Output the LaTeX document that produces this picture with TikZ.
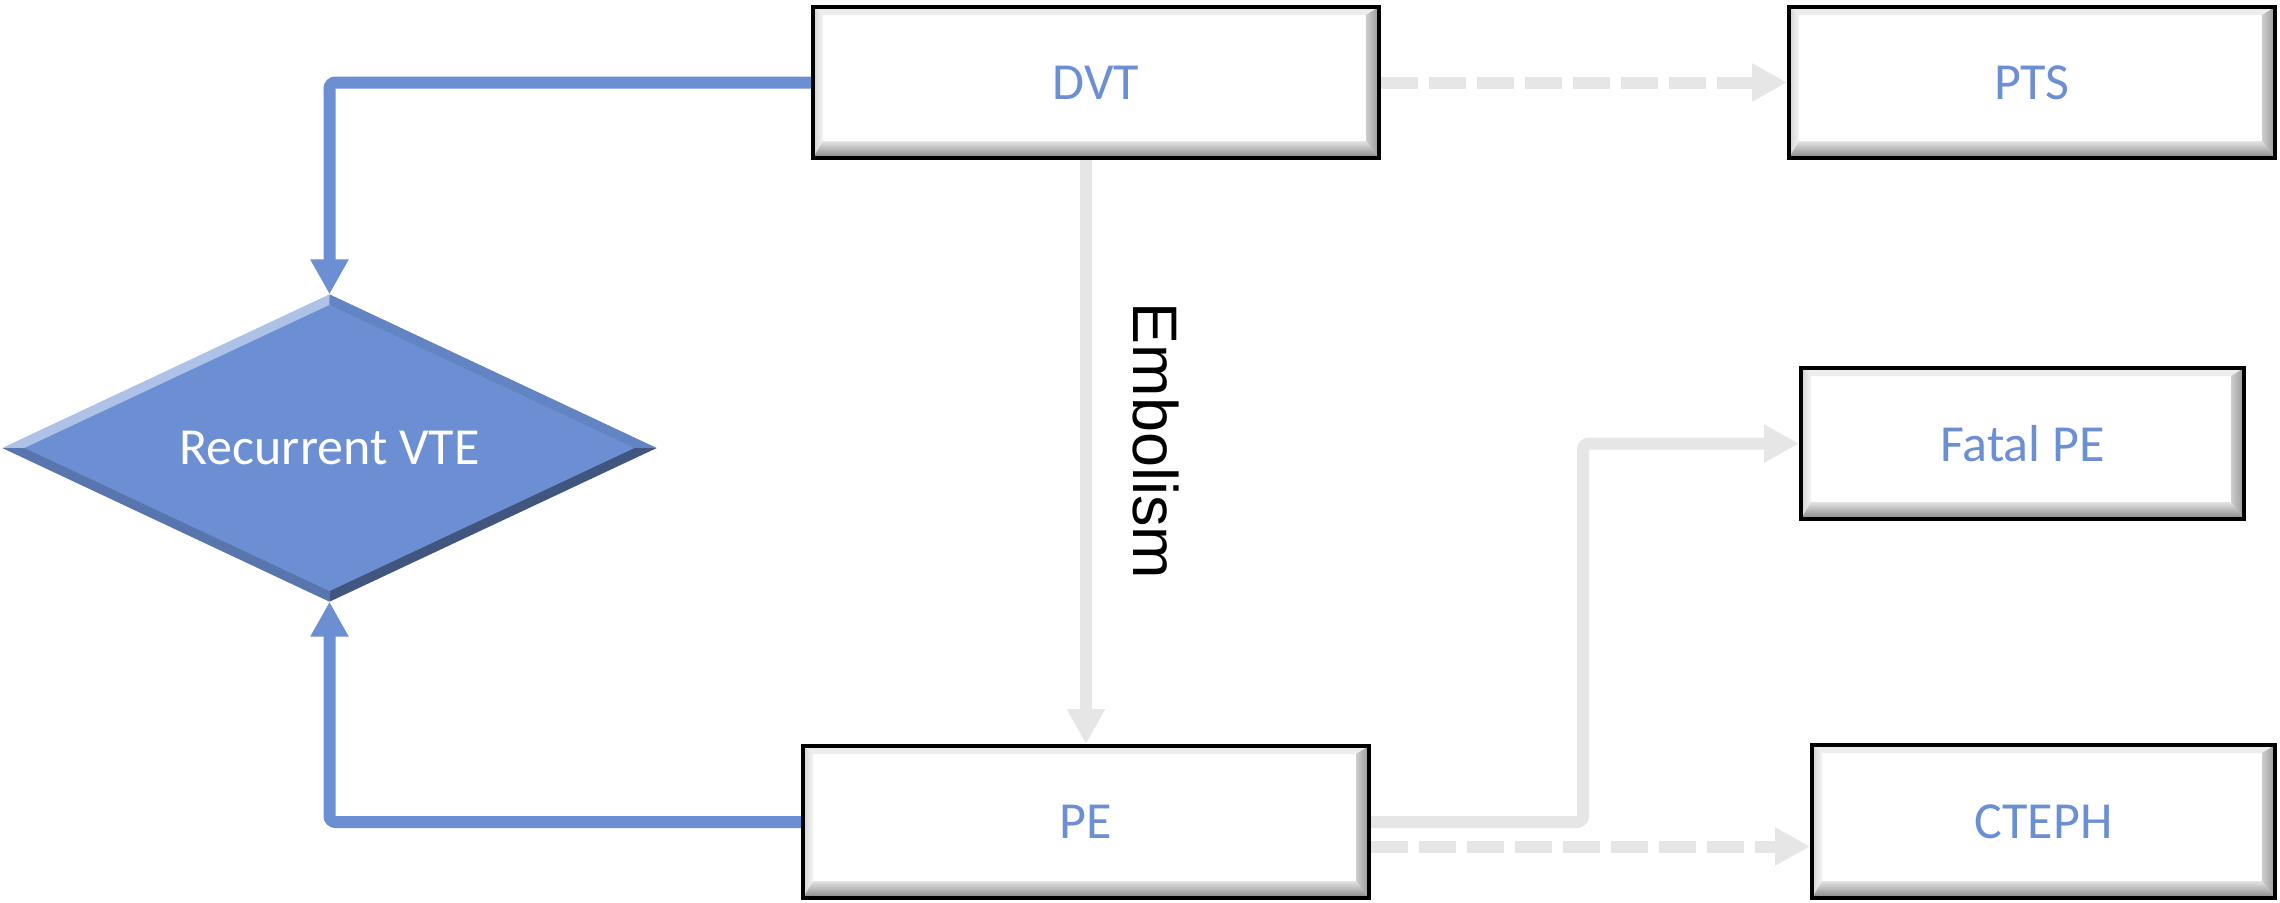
\documentclass[tikz,border=0pt]{standalone}
\usepackage{fontspec}
\setmainfont{Carlito}
\newfontfamily\arialf{Liberation Sans}
\usetikzlibrary{arrows.meta,shapes.geometric,calc}

\definecolor{blueA}{RGB}{108,143,212}
\definecolor{grayL}{RGB}{230,230,230}

\newcommand{\boxfont}{\fontsize{14.8}{18}\selectfont}

\tikzset{
  bevelbox/.style={
    draw=black, line width=0.04cm, fill=white, inner sep=0pt,
    text=blueA, font=\boxfont,
    path picture={
      \coordinate (bbsw) at (path picture bounding box.south west);
      \coordinate (bbse) at (path picture bounding box.south east);
      \coordinate (bbnw) at (path picture bounding box.north west);
      \coordinate (bbne) at (path picture bounding box.north east);
      % top bevel
      \fill[gray!14] (bbnw) -- (bbne) -- ([shift={(-0.13,-0.08)}]bbne)
        -- ([shift={(0.10,-0.08)}]bbnw) -- cycle;
      % left bevel
      \shade[left color=gray!35, right color=gray!8] (bbsw) -- (bbnw)
        -- ([shift={(0.10,-0.08)}]bbnw) -- ([shift={(0.10,0.17)}]bbsw) -- cycle;
      % right bevel
      \shade[left color=gray!40, right color=gray!80] (bbse) -- (bbne)
        -- ([shift={(-0.13,-0.08)}]bbne) -- ([shift={(-0.13,0.17)}]bbse) -- cycle;
      % bottom bevel
      \shade[top color=gray!22, bottom color=gray!95] (bbsw) -- (bbse)
        -- ([shift={(-0.13,0.17)}]bbse) -- ([shift={(0.10,0.17)}]bbsw) -- cycle;
    }},
  blueconn/.style={draw=blueA, line width=0.12cm, rounded corners=0.06cm,
    -{Triangle[width=0.36cm,length=0.35cm]}},
  grayconn/.style={draw=grayL, line width=0.12cm, rounded corners=0.06cm,
    -{Triangle[width=0.36cm,length=0.35cm]}},
  graydash/.style={grayconn, dash pattern=on 0.37cm off 0.11cm},
}

\begin{document}
\begin{tikzpicture}
\useasboundingbox (0,0) rectangle (22.8,9.02);

% boxes
\node[bevelbox, minimum width=5.66cm, minimum height=1.51cm] (DVT) at (10.96,8.195) {DVT};
\node[bevelbox, minimum width=4.86cm, minimum height=1.51cm] (PTS) at (20.32,8.195) {PTS};
\node[bevelbox, minimum width=4.43cm, minimum height=1.51cm] (FPE) at (20.225,4.585) {Fatal PE};
\node[bevelbox, minimum width=4.63cm, minimum height=1.53cm] (CTEPH) at (20.435,0.805) {CTEPH};
\node[bevelbox, minimum width=5.66cm, minimum height=1.52cm] (PE) at (10.86,0.80) {PE};

% decision diamond
\node[diamond, aspect=2.13, fill=blueA, inner sep=0pt, minimum width=6.53cm,
      minimum height=3.06cm, text=white, font=\boxfont] (VTE) at (3.295,4.54) {Recurrent VTE};
\fill[blueA!55!white] (VTE.west) -- (VTE.north) -- ([yshift=-0.105cm]VTE.north)
  -- ([xshift=0.22cm]VTE.west) -- cycle;
\fill[blueA!92!black] (VTE.north) -- (VTE.east) -- ([xshift=-0.22cm]VTE.east)
  -- ([yshift=-0.105cm]VTE.north) -- cycle;
\fill[blueA!60!black] (VTE.east) -- (VTE.south) -- ([yshift=0.105cm]VTE.south)
  -- ([xshift=-0.22cm]VTE.east) -- cycle;
\fill[blueA!82!black] (VTE.south) -- (VTE.west) -- ([xshift=0.22cm]VTE.west)
  -- ([yshift=0.105cm]VTE.south) -- cycle;

% recurrence paths
\draw[blueconn] (DVT.west) -| (VTE.north);
\draw[blueconn] (PE.west) -| (VTE.south);

% embolism
\draw[grayconn] (PE.north |- DVT.south) -- (PE.north);
\node[font=\arialf\fontsize{17.9}{20}\selectfont, rotate=-90, inner sep=0pt]
  (emb) at (11.555,4.61) {Embolism};

% outcomes
\draw[graydash] (DVT.east) -- (PTS.west);
\coordinate (bend) at (15.83,0);
\draw[grayconn] (PE.east) -- (PE.east -| bend) |- (FPE.west);
\coordinate (pe2) at ([yshift=-0.245cm]PE.east);
\draw[graydash] (pe2) -- (pe2 -| CTEPH.west);
\end{tikzpicture}
\end{document}
